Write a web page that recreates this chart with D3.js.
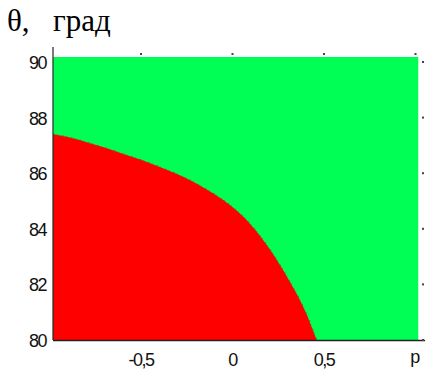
<!DOCTYPE html>
<html>
<head>
<meta charset="utf-8">
<script src="https://cdn.jsdelivr.net/npm/d3@7"></script>
<style>
  body { margin: 0; background: #fff; }
  .tick-label { font-family: "Liberation Sans", Arial, sans-serif; font-size: 18px; fill: #111; letter-spacing: -1.5px; }
  .title { font-family: "Liberation Serif", "Times New Roman", serif; font-size: 31px; fill: #000; }
</style>
</head>
<body>
<script>
// boundary between the two regions: theta (deg) versus p
var pValues = [-0.98, -0.9, -0.8, -0.7, -0.6, -0.5, -0.4, -0.3, -0.2, -0.1, 0.0, 0.1, 0.2, 0.3, 0.4, 0.46];
var thetaBoundary = [87.40, 87.30, 87.12, 86.92, 86.70, 86.48, 86.23, 85.96, 85.64, 85.25, 84.78, 84.15, 83.30, 82.25, 81.00, 80.0];

var pDomain = [-0.98, 1.015];
var thetaDomain = [80, 90.18];

var xTicks = [-0.5, 0, 0.5];
var xTickLabels = ["-0,5", "0", "0,5"];
var yTicks = [80, 82, 84, 86, 88, 90];
var xAxisName = "p";
var yAxisSymbol = "θ,";
var yAxisUnit = "град";

var width = 428,
    height = 369;

var svg = d3.select("body").append("svg")
    .attr("width", width)
    .attr("height", height);

var x = d3.scaleLinear().domain([0, 1]).range([232.5, 415.5]);
var y = d3.scaleLinear().domain([80, 90]).range([340, 62]);

// green background region
svg.append("rect")
    .attr("x", x(pDomain[0]))
    .attr("y", y(thetaDomain[1]))
    .attr("width", x(pDomain[1]) - x(pDomain[0]))
    .attr("height", y(thetaDomain[0]) - y(thetaDomain[1]))
    .attr("fill", "#00ff55");

// red region below boundary
var pts = pValues.map(function(p, i) { return [p, thetaBoundary[i]]; });
var area = d3.area()
    .x(function(d) { return x(d[0]); })
    .y0(y(80))
    .y1(function(d) { return y(d[1]); })
    .curve(d3.curveMonotoneX);

svg.append("path")
    .datum(pts)
    .attr("d", area)
    .attr("fill", "#ff0000");

// dark speckled fringe along the boundary
var line = d3.line()
    .x(function(d) { return x(d[0]); })
    .y(function(d) { return y(d[1]); })
    .curve(d3.curveMonotoneX);

svg.append("path")
    .datum(pts)
    .attr("d", line)
    .attr("fill", "none")
    .attr("stroke", "#8a5a10")
    .attr("stroke-width", 1.2)
    .attr("stroke-dasharray", "2,2,1,4")
    .attr("opacity", 0.9);

// axis lines (only left and bottom visible)
svg.append("line")
    .attr("x1", 53).attr("x2", 53)
    .attr("y1", 47).attr("y2", y(80))
    .attr("stroke", "#222").attr("stroke-width", 1.2);
svg.append("line")
    .attr("x1", 53).attr("x2", 425)
    .attr("y1", y(80) + 0.5).attr("y2", y(80) + 0.5)
    .attr("stroke", "#222").attr("stroke-width", 1.5);

// faint tick dots on the top and right edge
svg.selectAll(".tdot")
    .data([-0.5].concat(xTicks.slice(1), [1]))
  .enter().append("rect")
    .attr("x", function(d) { return x(d) - 1; })
    .attr("y", 53)
    .attr("width", 2).attr("height", 2)
    .attr("fill", "#444");

svg.selectAll(".rdot")
    .data(yTicks)
  .enter().append("rect")
    .attr("x", 422)
    .attr("y", function(d) { return y(d) - 1; })
    .attr("width", 2).attr("height", 2)
    .attr("fill", "#444");

// y tick labels
svg.selectAll(".ylab")
    .data(yTicks)
  .enter().append("text")
    .attr("class", "tick-label")
    .attr("x", 46)
    .attr("y", function(d) { return y(d) + 7; })
    .attr("text-anchor", "end")
    .text(function(d) { return d; });

// x tick labels
svg.selectAll(".xlab")
    .data(xTicks)
  .enter().append("text")
    .attr("class", "tick-label")
    .attr("x", function(d) { return x(d); })
    .attr("y", 366)
    .attr("text-anchor", "middle")
    .text(function(d, i) { return xTickLabels[i]; });

svg.append("text")
    .attr("class", "tick-label")
    .attr("x", x(1) - 1)
    .attr("y", 363)
    .attr("text-anchor", "middle")
    .text(xAxisName);

// axis title
svg.append("text")
    .attr("class", "title")
    .attr("x", 7)
    .attr("y", 31)
    .text(yAxisSymbol);
svg.append("text")
    .attr("class", "title")
    .attr("x", 53)
    .attr("y", 31)
    .text(yAxisUnit);
</script>
</body>
</html>
